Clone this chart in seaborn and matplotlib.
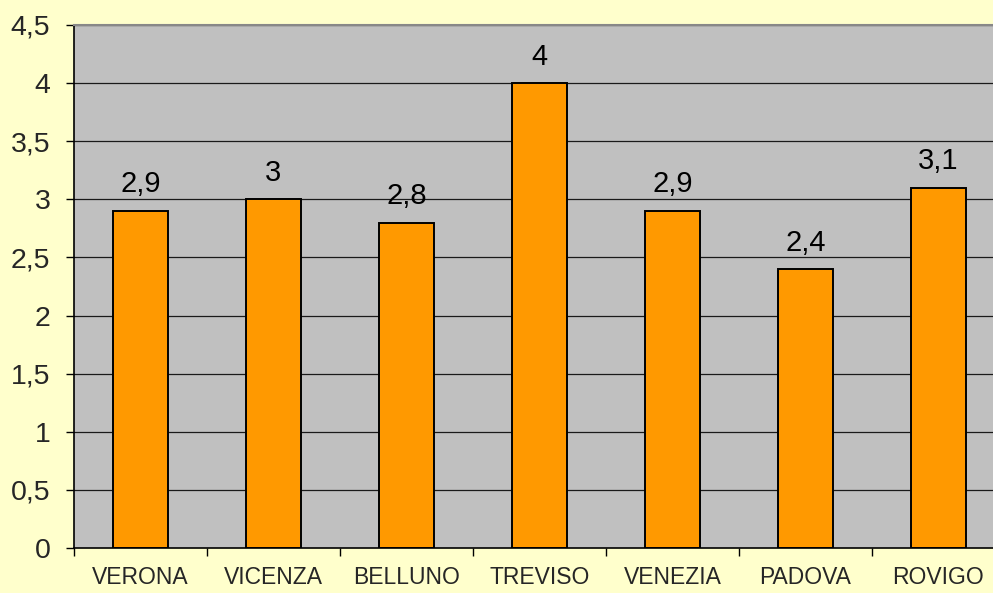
import matplotlib
matplotlib.use("Agg")
import matplotlib.pyplot as plt
import seaborn as sns
import pandas as pd
from matplotlib.ticker import FixedLocator, FuncFormatter

provinces = ["VERONA", "VICENZA", "BELLUNO", "TREVISO", "VENEZIA", "PADOVA", "ROVIGO"]
values = [2.9, 3.0, 2.8, 4.0, 2.9, 2.4, 3.1]
y_ticks = [0, 0.5, 1, 1.5, 2, 2.5, 3, 3.5, 4, 4.5]

df = pd.DataFrame({"provincia": provinces, "valore": values})

sns.set_theme(style="white")
plt.rcParams["font.family"] = ["Liberation Sans", "DejaVu Sans"]

fig = plt.figure(figsize=(9.93, 5.93), dpi=100, facecolor="#FFFFCC")
ax = fig.add_axes([74 / 993, 45 / 593, 931 / 993, 523 / 593])
ax.set_facecolor("#C0C0C0")

# horizontal gridlines behind the bars
for t in y_ticks[1:]:
    ax.axhline(t, color="#1a1a1a", linewidth=0.9, zorder=0.5)

sns.barplot(data=df, x="provincia", y="valore", color="#FF9900",
            saturation=1, width=0.41, edgecolor="black", linewidth=1.4,
            ax=ax, zorder=2)

ax.set_xlim(-0.5, len(provinces) - 0.5)
ax.set_ylim(0, 4.5)

comma = lambda v: f"{v:g}".replace(".", ",")
ax.bar_label(ax.containers[0], labels=[comma(v) for v in values],
             padding=9, fontsize=21, color="black")

ax.yaxis.set_major_locator(FixedLocator(y_ticks))
ax.yaxis.set_major_formatter(FuncFormatter(lambda v, p: comma(v)))
ax.tick_params(axis="y", labelsize=20.5, length=6, width=1, color="black",
               left=True, direction="out", pad=11)

ax.set_xticks(range(len(provinces)))
ax.set_xticklabels(provinces)
ax.set_xticks([i - 0.5 for i in range(len(provinces) + 1)], minor=True)
ax.tick_params(axis="x", which="major", length=0, labelsize=16.5, pad=13)
ax.tick_params(axis="x", which="minor", length=6, width=1, color="black",
               bottom=True, direction="out")

ax.set_xlabel("")
ax.set_ylabel("")

for side in ["left", "bottom"]:
    ax.spines[side].set_color("black")
    ax.spines[side].set_linewidth(1.2)
ax.spines["top"].set_color("#888888")
ax.spines["top"].set_linewidth(1.5)
ax.spines["right"].set_visible(False)

fig.savefig("out.png", dpi=100, facecolor=fig.get_facecolor())
